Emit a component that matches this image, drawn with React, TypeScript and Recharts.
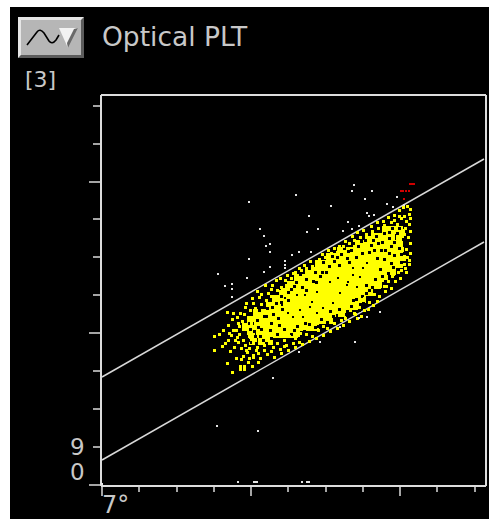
import React from "react";
import { ScatterChart, Scatter, XAxis, YAxis, ReferenceLine } from "recharts";

const titleText = "Optical PLT";
const countText = "[3]";
const xTicks = [1, 38, 76, 113, 150, 187, 225, 262, 299, 336, 374];
const yTicks = [1, 39, 77, 115, 153, 191, 229, 267, 304, 342, 380];
const xMajor = [1, 150, 299];
const yMajor = [1, 153, 304];
const upperGate = [{ x: 1, y: 109 }, { x: 383, y: 327 }];
const lowerGate = [{ x: 1, y: 26 }, { x: 383, y: 244 }];

const bandRows: [number, number[]][] = [
  [256, [285, 293, 300]],
  [249, [268, 275, 283, 290, 299]],
  [242, [256, 262, 270, 277, 284, 292, 298]],
  [235, [240, 248, 255, 263, 269, 277, 285, 291, 299]],
  [229, [229, 236, 243, 251, 258, 265, 272, 280, 287, 294, 301]],
  [222, [218, 225, 233, 240, 247, 254, 261, 268, 276, 283, 290, 298]],
  [215, [208, 215, 222, 229, 237, 244, 251, 258, 265, 272, 279, 286, 291]],
  [208, [197, 204, 211, 219, 226, 233, 240, 247, 255, 262, 269, 276, 283]],
  [201, [188, 195, 203, 210, 217, 224, 231, 239, 246, 253, 260, 267, 274, 277]],
  [194, [182, 189, 197, 204, 211, 218, 225, 232, 240, 247, 254, 261, 268]],
  [187, [175, 182, 189, 196, 203, 211, 218, 225, 232, 239, 246, 253, 261]],
  [180, [169, 176, 183, 190, 198, 205, 212, 219, 226, 233, 240, 247, 254]],
  [173, [156, 163, 170, 177, 184, 191, 199, 206, 213, 220, 227, 234, 241]],
  [166, [150, 157, 164, 171, 178, 185, 192, 200, 207, 214, 221, 228]],
  [159, [145, 150, 157, 164, 171, 178, 186, 193, 200, 207, 214]],
  [152, [150, 159, 167, 174, 181, 188, 195]],
  [145, [152, 161, 168]],
];
const coreCells: [number, number][] = [
  [184, 172], [192, 176], [199, 181], [207, 186], [215, 190], [223, 194], [231, 199], [239, 203], [247, 208], [255, 213], [263, 217], [271, 222],
  [188, 166], [197, 170], [206, 176], [215, 181], [224, 186], [232, 190], [240, 195], [248, 200], [256, 205],
  [211, 197], [219, 201], [227, 206], [235, 210], [243, 215], [252, 219], [262, 226], [272, 230],
];
const coreGaps: [number, number][] = [
  [196, 191], [204, 191], [211, 184], [216, 194], [229, 204], [237, 208], [247, 204], [252, 211], [246, 201], [222, 178], [199, 176], [209, 179], [239, 193],
  [256, 199], [259, 209], [266, 223], [269, 233], [232, 183], [216, 173], [192, 169], [187, 173], [184, 188], [181, 181], [202, 169], [252, 218], [262, 218],
];
const bandGaps: [number, number][] = [
  [146, 150], [151, 163], [149, 157], [156, 166], [160, 157], [163, 170], [158, 176], [166, 178], [172, 172], [170, 163], [177, 168], [168, 186], [175, 183],
  [181, 177], [173, 193], [180, 190], [187, 186], [178, 198], [184, 204], [190, 197], [195, 204], [191, 210], [199, 212], [205, 207], [201, 199], [208, 218],
  [214, 214], [212, 205], [219, 210], [222, 224], [228, 220], [225, 214], [233, 225], [238, 221], [231, 230], [240, 232], [246, 228], [243, 238], [250, 236],
  [252, 243], [257, 240], [261, 233], [256, 248], [264, 246], [270, 241], [268, 252], [275, 250], [279, 258], [283, 253], [273, 236], [281, 244], [288, 248],
  [291, 258], [296, 253], [286, 262], [299, 265], [303, 259], [295, 268], [305, 272], [302, 247], [307, 240], [298, 238], [290, 240], [284, 236], [293, 231],
  [303, 233], [300, 224], [306, 226], [290, 223], [283, 227], [296, 216], [287, 213], [279, 217], [284, 205], [274, 207], [279, 197], [271, 199], [265, 193],
  [272, 186], [262, 183], [255, 187], [258, 176], [250, 180], [245, 172], [238, 177], [241, 167], [232, 170], [226, 164], [229, 175], [220, 167], [214, 159],
  [208, 162], [203, 155], [196, 160], [190, 152], [198, 148], [183, 157], [176, 152], [186, 145], [170, 148], [162, 146], [154, 150], [166, 140], [150, 144],
  [293, 244], [276, 228], [288, 233], [280, 236], [265, 201], [261, 190], [294, 262], [277, 243], [268, 234], [255, 229], [248, 224], [236, 229], [221, 214],
  [215, 204], [205, 196], [193, 200], [187, 194], [180, 184], [171, 179], [165, 170], [157, 159], [159, 150], [169, 156], [178, 161], [193, 156], [204, 163],
  [217, 160], [236, 171], [252, 186], [268, 196], [281, 210], [292, 219], [300, 232], [304, 244], [298, 258], [288, 254], [272, 246], [260, 245], [247, 235],
  [148, 163], [153, 155], [165, 143], [147, 146], [155, 143],
];
const fringeDots: [number, number][] = [
  [113, 150], [113, 136], [122, 156], [124, 143], [127, 161], [127, 146], [126, 123], [131, 114], [139, 117], [143, 117], [139, 120], [143, 120], [147, 124],
  [152, 129], [132, 173], [139, 173], [126, 174], [137, 163], [136, 149], [144, 179], [152, 183], [158, 189], [167, 193], [171, 201], [179, 208], [192, 213],
  [186, 211], [198, 218], [203, 221], [209, 225], [216, 223], [221, 232], [227, 236], [233, 238], [238, 240], [244, 245], [251, 250], [256, 254], [262, 256],
  [270, 260], [276, 264], [282, 265], [287, 269], [293, 271], [298, 276], [302, 279], [306, 280], [309, 277], [309, 268], [145, 183], [151, 188], [156, 195],
  [160, 192], [164, 201], [170, 197], [175, 206], [308, 222], [305, 214], [299, 208], [294, 205], [290, 198], [284, 195], [278, 190], [272, 181], [267, 177],
  [260, 170], [253, 173], [248, 165], [242, 161], [236, 158], [229, 155], [222, 151], [215, 148], [208, 145], [201, 142], [194, 139], [187, 136], [180, 133],
  [173, 129], [166, 132], [159, 128], [152, 131], [146, 134], [140, 138], [134, 146], [130, 151], [135, 156], [138, 160], [131, 167], [136, 169], [141, 165],
  [118, 152], [121, 140], [129, 135], [135, 128], [142, 130], [148, 128], [155, 136], [144, 141], [138, 152], [143, 172], [149, 176], [154, 178], [297, 214],
  [304, 218], [292, 212], [285, 200], [276, 185], [263, 176], [256, 168], [240, 166], [226, 158], [211, 150], [198, 144], [183, 140], [170, 135], [157, 133],
  [303, 270], [308, 272], [305, 265], [300, 268], [296, 262], [290, 264], [308, 262], [304, 258], [309, 255], [307, 249], [303, 252], [309, 243], [305, 237],
  [309, 233], [306, 229], [303, 222], [308, 226], [300, 216], [296, 220], [291, 210], [287, 205], [283, 200], [278, 199], [273, 192], [268, 184], [263, 188],
  [258, 179], [254, 172], [249, 176], [244, 168], [238, 171], [233, 163], [228, 167], [222, 160], [217, 156], [211, 158], [205, 152], [199, 153], [194, 148],
  [188, 150], [183, 146], [176, 143], [170, 145], [163, 141], [158, 146], [152, 144], [148, 150], [146, 157], [143, 162], [150, 163], [153, 170], [158, 172],
  [160, 182], [165, 186], [170, 190], [176, 196], [180, 199], [184, 206], [190, 208], [194, 214], [200, 216], [205, 218], [211, 220], [218, 227], [224, 229],
  [230, 233], [236, 234], [242, 240], [248, 243], [253, 246], [259, 249], [265, 252], [271, 255], [277, 258], [283, 261], [288, 258], [293, 266], [298, 270],
  [172, 139], [179, 137], [185, 141], [192, 143], [163, 136], [156, 139], [148, 138], [142, 146], [137, 144], [132, 156], [128, 153], [133, 139], [140, 127],
  [145, 136], [151, 120], [157, 124],
];
const whiteDots: [number, number][] = [
  [253, 301], [251, 295], [271, 295], [264, 287], [195, 291], [148, 284], [230, 280], [208, 270], [247, 264], [159, 257], [163, 250], [169, 242], [165, 240],
  [169, 234], [148, 227], [184, 225], [184, 221], [184, 218], [169, 219], [163, 214], [117, 212], [146, 208], [124, 200], [131, 202], [131, 197], [131, 189],
  [206, 254], [217, 257], [198, 234], [191, 231], [210, 234], [242, 255], [251, 257], [258, 260], [266, 273], [268, 270], [273, 271], [286, 282], [296, 289],
  [292, 279], [303, 281], [279, 174], [266, 169], [258, 168], [239, 159], [254, 144], [219, 144], [198, 134], [172, 108], [116, 60], [157, 55], [137, 4],
  [153, 4], [155, 4], [156, 4], [201, 4], [206, 4], [208, 4], [1, 2],
];
const redDots: [number, number][] = [
  [309, 302], [311, 302], [313, 302], [300, 295], [302, 295], [305, 295], [308, 295], [303, 287],
];

const toPoints = (pairs: [number, number][]) => pairs.map(([x, y]) => ({ x, y }));
const bandPoints = bandRows.flatMap(([y, xs]) => xs.map((x) => ({ x, y })));

const square = (size: number, fill: string) => (p: any) => (
  <rect x={p.cx - size / 2} y={p.cy - size / 2} width={size} height={size} fill={fill} shapeRendering="crispEdges" />
);

const AXIS = "#dcdcdc";
const TEXT = "#c8c8c8";

const XTick = (p: any) => {
  const len = xMajor.includes(p.payload.value) ? 10 : 6;
  return <line x1={p.x} x2={p.x} y1={p.y} y2={p.y + len} stroke={AXIS} strokeWidth={1.5} />;
};
const YTick = (p: any) => {
  const len = yMajor.includes(p.payload.value) ? 12 : 8;
  return <line x1={p.x} x2={p.x - len} y1={p.y} y2={p.y} stroke={AXIS} strokeWidth={1.5} />;
};

const label = (text: string, left: number, top: number, size: number) => (
  <div
    style={{
      position: "absolute",
      left,
      top,
      fontFamily: "'DejaVu Sans', sans-serif",
      fontSize: size,
      lineHeight: `${size}px`,
      color: TEXT,
      whiteSpace: "nowrap",
    }}
  >
    {text}
  </div>
);

export default function App() {
  return (
    <div style={{ position: "absolute", left: 0, top: 0, width: 489, height: 519, overflow: "hidden", background: "#fff" }}>
      <div style={{ position: "absolute", left: 10, top: 7, width: 479, height: 512, background: "#000" }} />
      <svg style={{ position: "absolute", left: 18, top: 17 }} width={66} height={41}>
        <rect x={0} y={0} width={66} height={41} fill="#b6b6b6" />
        <path d="M0 0H66L63 3H3V38L0 41Z" fill="#e6e6e6" />
        <path d="M66 41H0L3 38H63V3L66 0Z" fill="#5c5c5c" />
        <path d="M9 28 L19 15 Q22 11 26 16 L31 24 Q34 28 38 23 L41 18" fill="none" stroke="#000" strokeWidth={1.6} />
        <path d="M41 11 H60 L50 31 Z" fill="#f2f2f2" />
        <path d="M60 11 L50 31 L49 26 L56 12 Z" fill="#6a6a6a" />
      </svg>
      {label(titleText, 102, 24, 26.5)}
      {label(countText, 25, 69, 22)}
      {label("9", 70, 436, 23)}
      {label("0", 70, 461, 23)}
      {label("7°", 102, 493, 24)}
      <div style={{ position: "absolute", left: 0, top: 0 }}>
        <ScatterChart width={489} height={519} margin={{ top: 95, right: 3, bottom: 13, left: 81 }}>
          <XAxis
            type="number"
            dataKey="x"
            domain={[0, 385]}
            ticks={xTicks}
            interval={0}
            height={20}
            tickSize={0}
            tickMargin={0}
            tick={XTick}
            tickLine={false}
            axisLine={{ stroke: AXIS, strokeWidth: 2 }}
          />
          <YAxis
            type="number"
            dataKey="y"
            domain={[0, 391]}
            ticks={yTicks}
            interval={0}
            width={20}
            tickSize={0}
            tickMargin={0}
            tick={YTick}
            tickLine={false}
            axisLine={{ stroke: AXIS, strokeWidth: 2 }}
          />
          <ReferenceLine y={391} stroke={AXIS} strokeWidth={2} />
          <ReferenceLine x={385} stroke={AXIS} strokeWidth={2} />
          <Scatter data={bandPoints} isAnimationActive={false} shape={square(8, "#ffff00")} />
          <Scatter data={toPoints(coreCells)} isAnimationActive={false} shape={square(14, "#ffff00")} />
          <Scatter data={toPoints(bandGaps)} isAnimationActive={false} shape={square(3, "#000000")} />
          <Scatter data={toPoints(coreGaps)} isAnimationActive={false} shape={square(2, "#000000")} />
          <Scatter data={toPoints(fringeDots)} isAnimationActive={false} shape={square(3, "#ffff00")} />
          <Scatter data={toPoints(whiteDots)} isAnimationActive={false} shape={square(2, "#e4e4e4")} />
          <Scatter data={toPoints(redDots)} isAnimationActive={false} shape={square(2, "#d00000")} />
          <ReferenceLine segment={upperGate} stroke="#d8d8d8" strokeWidth={1.5} ifOverflow="visible" />
          <ReferenceLine segment={lowerGate} stroke="#d8d8d8" strokeWidth={1.5} ifOverflow="visible" />
        </ScatterChart>
      </div>
    </div>
  );
}
